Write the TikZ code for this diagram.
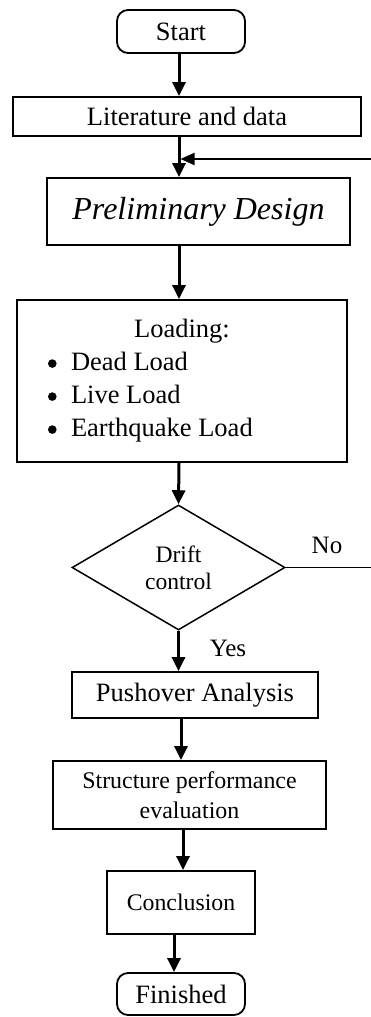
\documentclass[tikz,border=0pt]{standalone}
\usepackage{fontspec}
\setmainfont{Liberation Serif}
\usetikzlibrary{arrows.meta,shapes.geometric}
\newcommand{\mybul}{\makebox[23pt][l]{\raisebox{3pt}{\tikz\fill (0,0) circle (4.3pt);}}}
\begin{document}
\begin{tikzpicture}[x=1pt,y=-1pt,
  box/.style={draw,line width=1.8pt,inner sep=0pt,align=center,font=\fontsize{26.5}{31}\selectfont},
  term/.style={box,rounded corners=11pt},
  flow/.style={line width=3pt,-{Triangle[width=13pt,length=14pt]}},
  lbl/.style={inner sep=0pt,font=\fontsize{25}{30}\selectfont}]
\useasboundingbox (0,0) rectangle (371,1017);
\node[term,minimum width=128,minimum height=43] (start) at (181,31.5) {Start};
\node[box,minimum width=348,minimum height=39] (lit) at (187,116.5) {Literature and data};
\node[box,minimum width=303,minimum height=67,font=\fontsize{32}{36}\selectfont\itshape] (pre) at (198.5,211.5) {Preliminary Design};
\node[box,minimum width=330,minimum height=162] (load) at (182,381)
  {\begin{minipage}{330pt}\fontsize{26.5}{33}\selectfont
   \centering Loading:\par
   \raggedright
   \hspace*{31pt}\mybul Dead Load\par
   \hspace*{31pt}\mybul Live Load\par
   \hspace*{31pt}\mybul Earthquake Load\par
   \end{minipage}};
\node[draw,diamond,line width=1.5pt,inner sep=0pt,minimum width=213,minimum height=125,aspect=1.7,align=center,font=\fontsize{23.6}{27}\selectfont] (dia) at (178.5,567.5) {Drift\\control};
\node[box,minimum width=246,minimum height=46] (push) at (195,695) {Pushover Analysis};
\node[box,minimum width=273,minimum height=68,font=\fontsize{23.9}{30}\selectfont] (eval) at (189.5,795) {Structure performance\\evaluation};
\node[box,minimum width=148,minimum height=63,font=\fontsize{23.8}{28}\selectfont] (conc) at (181,902.5) {Conclusion};
\node[term,minimum width=128,minimum height=42] (fin) at (181,994) {Finished};
\coordinate (fb) at (371,159);
\coordinate (noend) at (371,567.5);
\node[lbl] (no) at (327,545) {No};
\node[lbl] (yes) at (228,648) {Yes};
\draw[flow] (start.south -| 179,0) -- (lit.north -| 179,0);
\draw[flow] (lit.south -| 179,0) -- (pre.north -| 179,0);
\draw[flow] (pre.south -| 179,0) -- (load.north -| 179,0);
\draw[flow] (load.south -| 179,0) -- (dia.north);
\draw[flow] (dia.south) -- (push.north -| dia.south);
\draw[flow] (push.south -| 181,0) -- (eval.north -| 181,0);
\draw[flow] (eval.south -| 183,0) -- (conc.north -| 183,0);
\draw[flow] (conc.south -| 174,0) -- (fin.north -| 174,0);
\draw[line width=2pt,-{Triangle[width=12pt,length=14pt]}] (fb) -- ([xshift=1.5pt]fb -| 179,0);
\draw[line width=1.5pt] (dia.east) -- (noend);
\end{tikzpicture}
\end{document}
